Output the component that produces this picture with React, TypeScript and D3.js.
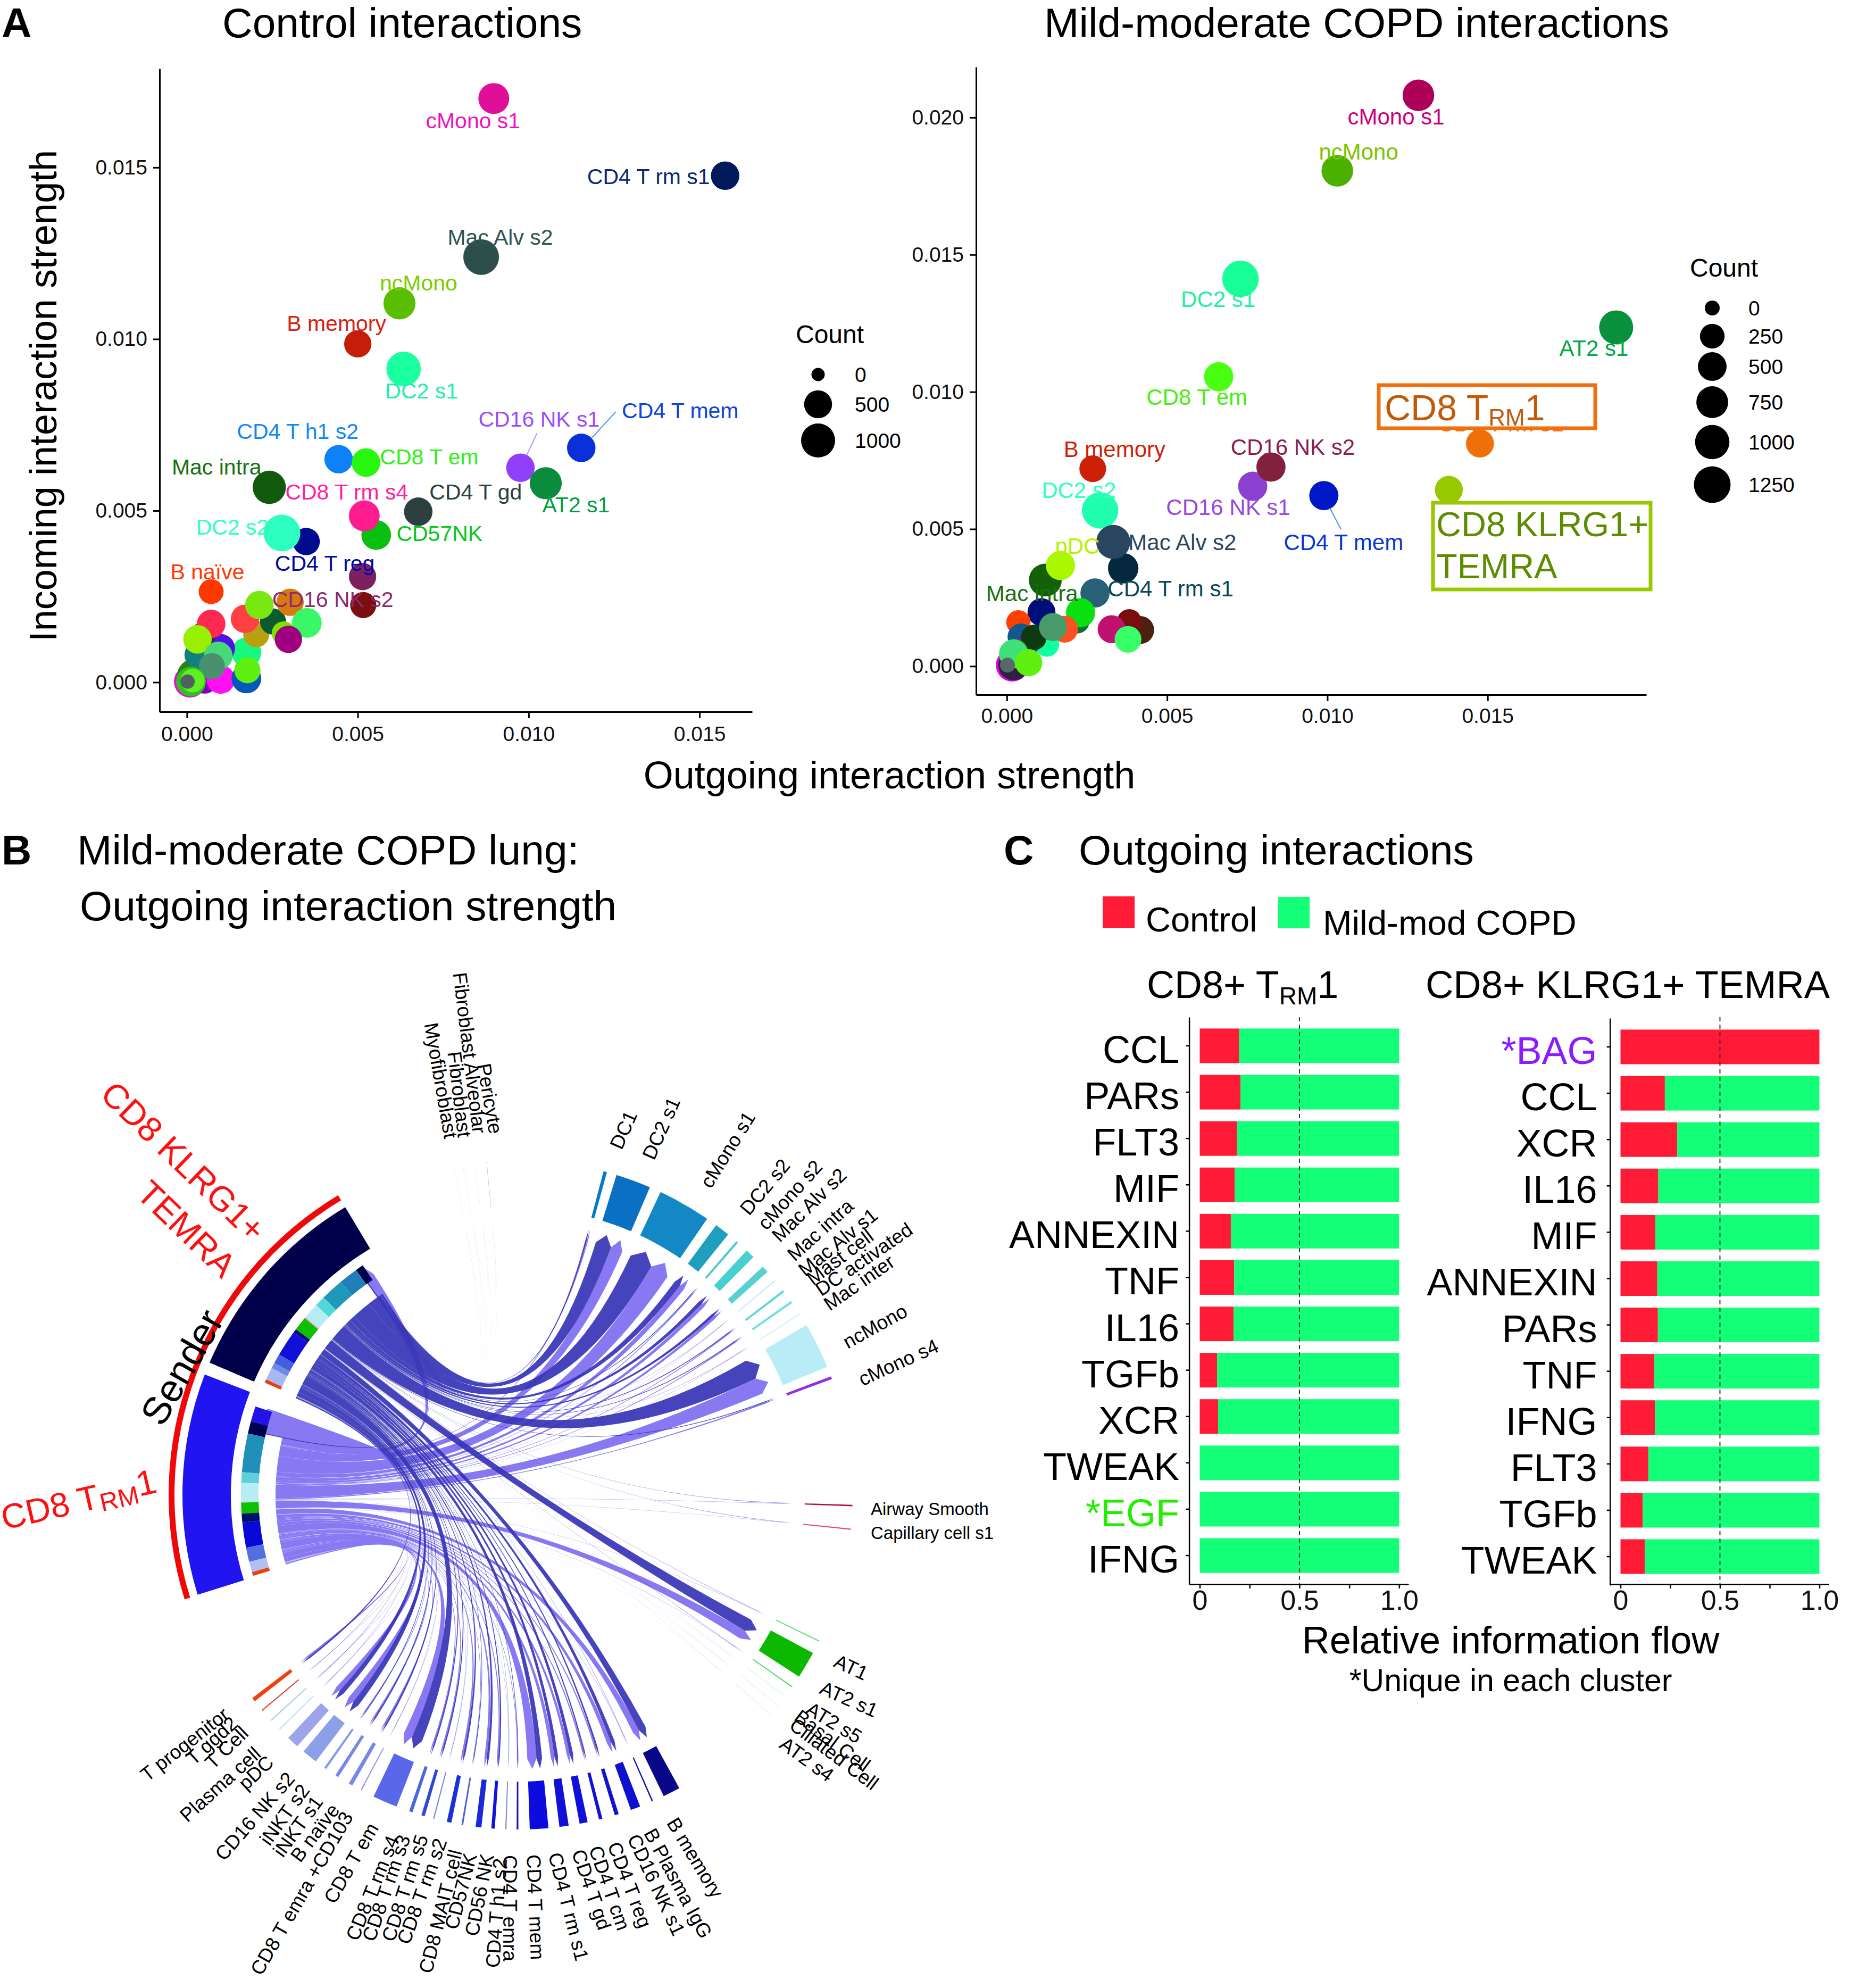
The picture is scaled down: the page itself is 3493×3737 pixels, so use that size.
import React, { useEffect, useRef } from "react";
import * as d3 from "d3";

const FONT = '"Liberation Sans", Arial, sans-serif';

// ---- panel A, control
const ctrlNames = ["cMono s1", "CD4 T rm s1", "Mac Alv s2", "ncMono", "B memory", "DC2 s1", "CD4 T mem", "CD16 NK s1", "CD4 T h1 s2", "CD8 T em", "Mac intra", "AT2 s1", "CD4 T gd", "CD57NK", "CD8 T rm s4", "CD4 T reg", "DC2 s2", "CD16 NK s2", "B naïve", "", "", "", "", "", "", "", "", "", "", "", "", "", "", "", "", "", "", "", "", "", "", "", "", "", ""];
const ctrlX = [0.00898, 0.01575, 0.00861, 0.00622, 0.005, 0.00634, 0.01154, 0.00976, 0.00444, 0.00524, 0.00241, 0.0105, 0.00677, 0.00554, 0.00519, 0.00349, 0.00278, 0.00514, 0.00071, 0.00009, 0.00023, 0.00052, 0.00099, 0.00174, 0.00031, 0.00174, 0.00099, 0.0005, 0.00203, 0.00252, 0.00302, 0.00516, 0.00071, 0.0017, 0.00212, 0.00351, 0.00283, 0.00297, 0.00031, 0.00092, 0.00073, 0.00177, 0.00012, 0.00017, 0.00002];
const ctrlY = [0.01701, 0.01476, 0.01239, 0.01104, 0.00986, 0.00913, 0.00683, 0.00625, 0.0065, 0.0064, 0.00568, 0.0058, 0.00497, 0.00429, 0.00485, 0.0041, 0.00435, 0.00308, 0.00264, 0.00002, 0.00017, 0.00005, 0.00008, 0.00011, 0.0008, 0.00087, 0.00099, 0.00143, 0.0014, 0.00177, 0.00233, 0.00225, 0.0017, 0.00185, 0.00225, 0.00173, 0.00143, 0.00125, 0.00125, 0.00077, 0.00047, 0.00035, 0.00002, 0.00005, 0.00002];
const ctrlCount = [716, 537, 1160, 820, 455, 1040, 537, 537, 537, 537, 925, 820, 537, 625, 716, 455, 1285, 455, 314, 820, 1160, 382, 537, 625, 382, 625, 537, 253, 382, 382, 455, 382, 537, 537, 537, 625, 253, 455, 537, 537, 382, 382, 625, 253, 2];
const ctrlColors = ["#DF0F98", "#001A5C", "#2C4F4B", "#5ABE00", "#C41E08", "#1AFFA0", "#0A30D8", "#9040F8", "#0E80F8", "#28F810", "#115A0C", "#0A8C3C", "#2C4040", "#08C010", "#FF1C90", "#000C90", "#2CFFC0", "#7E2060", "#FF3800", "#E010E0", "#2A8010", "#8000C0", "#FF10F0", "#0458B8", "#108080", "#18F880", "#5010E8", "#103A10", "#B8A010", "#0C5A30", "#D87A10", "#7A0E10", "#FF2850", "#FF4040", "#78E810", "#38F868", "#80E000", "#A00080", "#98F000", "#48D878", "#489070", "#60F010", "#30C020", "#60F020", "#506060"];

// label nudges: name -> [dx, dy, colour]
const ctrlLabels: Record<string, [number, number, string]> = {
  "cMono s1": [-39, 42, "#F010C0"],
  "CD4 T rm s1": [-144, 2, "#0A2870"],
  "Mac Alv s2": [36, -37, "#2C5550"],
  ncMono: [36, -38, "#7CCD00"],
  "B memory": [-40, -38, "#D62010"],
  "DC2 s1": [34, 41, "#22F0A8"],
  "CD4 T mem": [186, -70, "#1040E0"],
  "CD16 NK s1": [35, -91, "#9A4CFF"],
  "CD4 T h1 s2": [-77, -52, "#1088F8"],
  "CD8 T em": [119, -11, "#30F018"],
  "Mac intra": [-99, -38, "#147010"],
  "AT2 s1": [57, 41, "#00A040"],
  "CD4 T gd": [108, -37, "#2C4040"],
  "CD8 T rm s4": [-33, -45, "#FF20A0"],
  CD57NK: [119, -3, "#08C818"],
  "DC2 s2": [-93, -11, "#30FFC8"],
  "CD4 T reg": [35, 41, "#0008A0"],
  "CD16 NK s2": [-56, 43, "#8B2A6A"],
  "B naïve": [-7, -37, "#FF3800"],
};

// ---- panel A, mild-moderate COPD
const copdNames = ["cMono s1", "ncMono", "DC2 s1", "AT2 s1", "CD8 T em", "CD8 T rm s1", "CD16 NK s1", "CD16 NK s2", "B memory", "CD4 T mem", "CD8 KLRG1", "DC2 s2", "CD4 T rm s1", "Mac Alv s2", "Mac intra", "pDC", "", "", "", "", "", "", "", "", "", "", "", "", "", "", "", "", "", "", "", "", "", ""];
const copdX = [0.01284, 0.01031, 0.00729, 0.01901, 0.00661, 0.01476, 0.00767, 0.00824, 0.00268, 0.00989, 0.01379, 0.00291, 0.00363, 0.00332, 0.0012, 0.00167, 0.00275, 0.00108, 0.0022, 0.0023, 0.00036, 0.0018, 0.00416, 0.00382, 0.00327, 0.00378, 0.00044, 0.00125, 0.00059, 0.00059, 0.00084, 0.00144, 0.00017, 0.00025, 0.00021, 0.00021, 0.00068, 0.00002];
const copdY = [0.02081, 0.01806, 0.01412, 0.01235, 0.01055, 0.00812, 0.00656, 0.00726, 0.0072, 0.00622, 0.00643, 0.00568, 0.00357, 0.00453, 0.00314, 0.00367, 0.00267, 0.00197, 0.00164, 0.00195, 0.0016, 0.00135, 0.00132, 0.00164, 0.00135, 0.00098, 0.00107, 0.00079, 0.0007, 0.00013, 0.00105, 0.00143, 0.00004, 0.00051, 0.00004, 0.00045, 0.00013, 0.00004];
const copdCount = [737, 737, 1225, 964, 537, 450, 537, 537, 370, 537, 450, 1225, 634, 964, 849, 537, 537, 450, 234, 537, 234, 370, 450, 234, 450, 370, 370, 234, 234, 370, 300, 450, 849, 370, 634, 537, 400, 0];
const copdColors = ["#AE0058", "#4CB000", "#18FF98", "#08903C", "#48FF10", "#F07008", "#8C40D0", "#822040", "#CC2008", "#0018C8", "#98C800", "#20FFB0", "#042840", "#2A4560", "#146008", "#A8F800", "#286078", "#000E7A", "#0E7038", "#08E010", "#FF4000", "#FF5020", "#4E2010", "#7A0E0E", "#C01070", "#38FF68", "#105890", "#10FFA0", "#6020D0", "#1060B0", "#0E3A10", "#489A68", "#E000E0", "#2E7818", "#2E2040", "#40E078", "#60F010", "#586868"];
const copdLabels: Record<string, [number, number, string]> = {
  "cMono s1": [-42, 41, "#C8007C"],
  ncMono: [40, -35, "#7CC400"],
  "DC2 s1": [-42, 39, "#20F0A0"],
  "AT2 s1": [-42, 40, "#00A840"],
  "CD8 T em": [-41, 39, "#48F010"],
  "CD8 T rm s1": [39, -37, "#F07008"],
  "CD16 NK s2": [41, -37, "#8A2050"],
  "B memory": [41, -36, "#D02008"],
  "CD16 NK s1": [-46, 40, "#9848E0"],
  "CD4 T mem": [37, 88, "#0838D0"],
  "DC2 s2": [-40, -37, "#30FFC0"],
  "Mac Alv s2": [130, 1, "#2A4560"],
  pDC: [32, -36, "#B8F000"],
  "CD4 T rm s1": [89, 39, "#064858"],
  "Mac intra": [-25, 26, "#1A7010"],
};

const ctrlLegend = [0, 500, 1000];
const copdLegend = [0, 250, 500, 750, 1000, 1250];

// ---- panel B
const recvNames = ["CD8 TRM1", "CD8 TEMRA", "Myofibroblast", "Fibroblast", "Fibroblast Alveolar", "Pericyte", "DC1", "DC2 s1", "cMono s1", "DC2 s2", "cMono s2", "Mac Alv s2", "Mac intra", "Mac Alv s1", "Mast cell", "DC activated", "Mac inter", "ncMono", "cMono s4", "Airway Smooth", "Capillary cell s1", "AT1", "AT2 s1", "AT2 s5", "Basal Cell", "Ciliated Cell", "AT2 s4", "B memory", "B Plasma IgG", "CD16 NK s1", "CD4 T reg", "CD4 T cm", "CD4 T gd", "CD4 T rm s1", "CD4 T mem", "CD4 T emra", "CD4 T h1 s2", "CD56 NK", "CD57NK", "CD8 MAIT cell", "CD8 T rm s2", "CD8 T rm s5", "CD8 T rm s3", "CD8 T rm s4", "CD8 T em", "CD8 T emra +CD103", "B naïve", "iNKT s1", "iNKT s2", "CD16 NK s2", "pDC", "Plasma cell", "T cell", "T ggd2", "T progenitor"];
const recvStart = [-76.5, -35.5, -11.13, -9.53, -7.53, -5.43, 14.8, 17.1, 25.2, 36.3, 40.7, 43.1, 47, 50.1, 52.3, 54.6, 57.2, 59.5, 69.25, 91.7, 95.8, 115.8, 118.2, 124.9, 126.95, 128.95, 130.95, 151.2, 156.2, 158.6, 162.5, 165.4, 168, 171.3, 174.8, 179.95, 182, 184, 186.3, 189.45, 191.5, 194.5, 196.2, 198.4, 201.3, 207.9, 209.7, 212.5, 215, 217.2, 221.3, 225.4, 227.5, 229.8, 231.9];
const recvEnd = [-71, -33.2, -11.07, -9.47, -7.47, -5.37, 15.4, 23.2, 34.4, 38.9, 41.1, 44.7, 48.2, 50.3, 52.7, 55, 57.4, 67.5, 69.75, 91.95, 96, 116, 122.9, 125.1, 127.05, 129.05, 131.05, 154.2, 156.45, 160.3, 163.2, 166, 169.4, 172.9, 178, 180.25, 182.2, 184.6, 187.3, 189.75, 192.3, 194.7, 196.8, 199, 205.6, 208.1, 210.4, 213.1, 215.4, 219.9, 223.4, 225.6, 227.75, 230, 232.6];
const recvColors = ["none", "none", "#DCEDF0", "#E4EEF0", "#E4EEF0", "#90C8C8", "#0878C8", "#0A70C4", "#1488C4", "#1F9FC0", "#50C8D0", "#48D0D0", "#58D0D0", "#C8E8EC", "#60D8D8", "#70DDE0", "#D8EEF0", "#B8ECF6", "#9030E0", "#B01048", "#E84868", "#60E080", "#0CB800", "#50D870", "#D8F0E0", "#D8F0E0", "#D8F0E0", "#080888", "#1818A8", "#1010D0", "#1212D0", "#1212D0", "#1010D8", "#1010D8", "#0C0CE0", "#1818B0", "#8888C0", "#1414D8", "#1A2AD8", "#5060D0", "#1C30D8", "#7080E0", "#3048D8", "#4868E0", "#5868E8", "#9098E0", "#7888E8", "#7888E8", "#8898E8", "#8CA0E8", "#9CA4EC", "#C8E0E8", "#B0D8E0", "#D84030", "#F04010"];
const darkShare = [0.04, 0.12, 0.5, 0.5, 0.5, 0.5, 0.5, 0.57, 0.55, 0.55, 0.5, 0.5, 0.5, 0.5, 0.5, 0.5, 0.5, 0.55, 0.4, 0.5, 0.5, 0.5, 0.58, 0.5, 0.5, 0.5, 0.5, 0.55, 0.5, 0.5, 0.55, 0.5, 0.55, 0.5, 0.38, 0.5, 0.5, 0.5, 0.5, 0.5, 0.5, 0.5, 0.5, 0.5, 0.55, 0.5, 0.5, 0.5, 0.5, 0.5, 0.5, 0.5, 0.5, 0.5, 0.5];

const temraSpans = [1.7, 4, 4.8, 2.2, 3.4, 0.2, 2.9, 0.8, 5.5, 2, 1.2, 2.6, 0.7];
const temraSpanColors = ["#00004A", "#1F7FB8", "#2098B8", "#50D8D8", "#B8ECF4", "#F080A0", "#0CC000", "#000C80", "#1010D8", "#4060E0", "#7088E8", "#A8B8F0", "#E84010"];
const trmSpans = [3.2, 2.6, 8.1, 2.2, 4.1, 2.3, 1.8, 5.3, 3, 2.2, 0.8];
const trmSpanColors = ["#2014E8", "#000050", "#2090B8", "#60D0D8", "#B8ECF4", "#0CC000", "#00106A", "#0808D8", "#5070E0", "#B0C0F0", "#E84010"];

// text, centre x, centre y, rotation
const chordLabels: [string, number, number, number][] = [
  ["Fibroblast Alveolar", 883, 1979, 83], ["Fibroblast", 864, 2057, 83], ["Myofibroblast", 829, 2031, 80], ["Pericyte", 921, 2065, 80],
  ["DC1", 1172, 2124, -66], ["DC2 s1", 1243, 2121, -66], ["cMono s1", 1368, 2161, -58], ["DC2 s2", 1438, 2231, -50], ["cMono s2", 1485, 2246, -48],
  ["Mac Alv s2", 1521, 2265, -44.5], ["Mac intra", 1542, 2312, -42], ["Mac Alv s1", 1575, 2335, -39], ["Mast cell", 1579, 2363, -37], ["DC activated", 1624, 2367, -34.5],
  ["Mac inter", 1615, 2411, -35], ["ncMono", 1645, 2493, -29], ["cMono s4", 1689, 2561, -24.5],
  ["AT1", 1600, 3134, 25], ["AT2 s1", 1596, 3194, 24], ["AT2 s5", 1568, 3238, 31], ["Basal Cell", 1565, 3272, 37], ["Ciliated Cell", 1568, 3297, 37], ["AT2 s4", 1517, 3307, 36],
  ["B memory", 1307, 3492, 58.7], ["B Plasma IgG", 1275, 3540, 61.7], ["CD16 NK s1", 1234, 3543, 64.8], ["CD4 T reg", 1184, 3543, 69], ["CD4 T cm", 1146, 3549, 70.7], ["CD4 T gd", 1112, 3552, 71],
  ["CD4 T rm s1", 1069, 3584, 75.6], ["CD4 T mem", 1007, 3585, 87.8], ["CD4 T emra", 959, 3587, 90], ["CD4 T h1 s2", 933, 3596, -86], ["CD56 NK", 901, 3562, -79], ["CD57NK", 866, 3555, -75.5],
  ["CD8 MAIT cell", 828, 3593, -76], ["CD8 T rm s2", 793, 3555, -70], ["CD8 T rm s5", 761, 3549, -72], ["CD8 T rm s3", 726, 3549, -71], ["CD8 T rm s4", 700, 3549, -68], ["CD8 T em", 660, 3502, -60],
  ["CD8 T emra +CD103", 567, 3559, -60], ["B naïve", 592, 3445, -53], ["iNKT s1", 560, 3433, -54], ["iNKT s2", 535, 3411, -54], ["CD16 NK s2", 479, 3414, -49],
  ["pDC", 481, 3332, -43], ["Plasma cell", 414, 3354, -42], ["T Cell", 426, 3285, -44], ["T ggd2", 398, 3272, -42], ["T progenitor", 347, 3279, -38],
];

// ---- panel C
const trmCats = ["CCL", "PARs", "FLT3", "MIF", "ANNEXIN", "TNF", "IL16", "TGFb", "XCR", "TWEAK", "*EGF", "IFNG"];
const trmControl = [0.198, 0.204, 0.187, 0.176, 0.156, 0.173, 0.17, 0.087, 0.092, 0, 0, 0];
const temraCats = ["*BAG", "CCL", "XCR", "IL16", "MIF", "ANNEXIN", "PARs", "TNF", "IFNG", "FLT3", "TGFb", "TWEAK"];
const temraControl = [1, 0.223, 0.285, 0.19, 0.175, 0.185, 0.188, 0.17, 0.173, 0.14, 0.112, 0.122];

function Axis({ scale, orient, x = 0, y = 0, ticks, size, pad, fmt, fontSize, sw = 3 }: any) {
  const ref = useRef<SVGGElement>(null);
  useEffect(() => {
    const gen = (orient === "left" ? d3.axisLeft : d3.axisBottom)(scale)
      .tickValues(ticks)
      .tickSizeInner(size)
      .tickSizeOuter(0)
      .tickPadding(pad)
      .tickFormat(fmt);
    const g = d3.select(ref.current);
    g.call(gen as any);
    g.selectAll("path,line").attr("stroke", "#000").attr("stroke-width", sw);
    g.selectAll("text").attr("font-size", fontSize).attr("font-family", FONT).attr("fill", "#111");
  }, []);
  return <g ref={ref} transform={`translate(${x},${y})`} />;
}

function Scatter({ names, xs, ys, counts, colors, labels, xRange, yRange, xDom, yDom, maxCount, rRange, yTicks, padX, segs, labelSize }: any) {
  const x = d3.scaleLinear().domain(xDom).range(xRange);
  const y = d3.scaleLinear().domain(yDom).range(yRange);
  const r = d3.scaleSqrt().domain([0, maxCount]).range(rRange);
  const f = d3.format(".3f");
  return (
    <g>
      {xs.map((v: number, i: number) => (
        <circle key={i} cx={x(v)} cy={y(ys[i])} r={r(counts[i])} fill={colors[i]} />
      ))}
      {segs.map(([n, a, b, c, d, col]: any) => {
        const i = names.indexOf(n);
        return <line key={n} x1={x(xs[i]) + a} y1={y(ys[i]) + b} x2={x(xs[i]) + c} y2={y(ys[i]) + d} stroke={col} strokeWidth={2} />;
      })}
      {names.map((n: string, i: number) =>
        n && labels[n] ? (
          <text key={n} x={x(xs[i]) + labels[n][0]} y={y(ys[i]) + labels[n][1] + 14} textAnchor="middle" fontSize={labelSize} fontFamily={FONT} fill={labels[n][2]}>
            {n}
          </text>
        ) : null,
      )}
      <Axis scale={x} orient="bottom" y={yRange[0]} ticks={[0, 0.005, 0.01, 0.015]} size={12} pad={padX} fmt={f} fontSize={39} />
      <Axis scale={y} orient="left" x={xRange[0]} ticks={yTicks} size={12} pad={11} fmt={f} fontSize={39} />
    </g>
  );
}

function SizeLegend({ values, rScale, titleX, titleY, keyX, labelX, keyYs }: any) {
  return (
    <g fontFamily={FONT}>
      <text x={titleX} y={titleY} fontSize={48}>Count</text>
      {values.map((v: number, i: number) => (
        <g key={v}>
          <circle cx={keyX} cy={keyYs[i]} r={rScale(v)} fill="#000" />
          <text x={labelX} y={keyYs[i] + 14} fontSize={39}>{v}</text>
        </g>
      ))}
    </g>
  );
}

// ---- chord helpers
const CX = 974;
const CY = 2810;
const rad = (d: number) => (d * Math.PI) / 180;
const pt = (deg: number, r: number): [number, number] => [CX + r * Math.sin(rad(deg)), CY - r * Math.cos(rad(deg))];

function ribbon(aHi: number, aLo: number, bLo: number, bHi: number) {
  const p = d3.path();
  const [sx, sy] = pt(aHi, 456);
  p.moveTo(sx, sy);
  const s0 = pt(bLo, 497);
  p.quadraticCurveTo(CX, CY, s0[0], s0[1]);
  const tip = pt((bLo + bHi) / 2, 516);
  p.lineTo(tip[0], tip[1]);
  const s1 = pt(bHi, 497);
  p.lineTo(s1[0], s1[1]);
  const e = pt(aLo, 456);
  p.quadraticCurveTo(CX, CY, e[0], e[1]);
  p.arc(CX, CY, 456, rad(aLo - 90), rad(aHi - 90), false);
  p.closePath();
  return p.toString();
}

function Chords() {
  const arc = d3.arc();
  const span = recvNames.map((_, i) => recvEnd[i] - recvStart[i]);
  const darkW = span.map((s, i) => s * darkShare[i]);
  const lightW = span.map((s, i) => s * (1 - darkShare[i]));
  const darkCum = [0, ...d3.cumsum(darkW)];
  const lightCum = [0, ...d3.cumsum(lightW)];
  const darkA = d3.scaleLinear().domain([0, d3.sum(darkW)]).range([-34, -66.5]);
  const lightA = d3.scaleLinear().domain([0, d3.sum(lightW)]).range([-71.4, -106.7]);
  const faint = (s: number) => (s < 0.15 ? 0.25 : s < 0.3 ? 0.55 : 1);
  const ring = (spans: number[], colors: string[], start: number) => {
    const cum = [0, ...d3.cumsum(spans)];
    return spans.map((s, i) => (
      <path key={i} fill={colors[i]} d={arc({ innerRadius: 488, outerRadius: 521, startAngle: rad(start - cum[i + 1]), endAngle: rad(start - cum[i]) }) as string} />
    ));
  };
  const block = (a: number, b: number, r0: number, r1: number) => arc({ innerRadius: r0, outerRadius: r1, startAngle: rad(a), endAngle: rad(b) }) as string;
  return (
    <g>
      {recvNames.map((n, i) => (
        <path key={"l" + n} fill="#8878F2" fillOpacity={faint(span[i])} d={ribbon(lightA(lightCum[i]), lightA(lightCum[i + 1]), recvStart[i] + span[i] * darkShare[i], recvEnd[i])} />
      ))}
      {recvNames.map((n, i) => (
        <path key={"d" + n} fill="#3634B6" fillOpacity={0.92 * faint(span[i])} d={ribbon(darkA(darkCum[i]), darkA(darkCum[i + 1]), recvStart[i], recvStart[i] + span[i] * darkShare[i])} />
      ))}
      <g transform={`translate(${CX},${CY})`}>
        {recvNames.map((n, i) =>
          recvColors[i] === "none" ? null : <path key={n} fill={recvColors[i]} d={block(recvStart[i], recvEnd[i], 539, 629)} />,
        )}
        <path fill="#00004A" d={block(-66.8, -31, 540, 631)} />
        <path fill="#2014F0" d={block(-107.3, -69, 540, 631)} />
        <path fill="#F00808" d={block(-107.4, -31, 646, 657)} />
        {ring(temraSpans, temraSpanColors, -34.1)}
        {ring(trmSpans, trmSpanColors, -71.4)}
      </g>
    </g>
  );
}

function StackPanel({ cats, control, x1, bandTop, labelEnd, axisX }: any) {
  const rows = cats.map((c: string, i: number) => ({ cat: c, control: control[i], copd: 1 - control[i] }));
  const series = d3.stack<any>().keys(["control", "copd"])(rows);
  const x = d3.scaleLinear().domain([-0.053, 1.047]).range([axisX, x1]);
  const y = d3.scaleBand().domain(cats).range([bandTop, bandTop + 1066]).paddingInner(0.253).paddingOuter(0.246);
  const fill: Record<string, string> = { control: "#FF1A35", copd: "#14FF78" };
  const catColor = (c: string) => (c === "*BAG" ? "#8A1CFF" : c === "*EGF" ? "#22EE00" : "#000");
  return (
    <g>
      {series.map((s: any) =>
        s.map((d: any) => (
          <rect key={s.key + d.data.cat} x={x(d[0])} width={x(d[1]) - x(d[0])} y={y(d.data.cat)} height={y.bandwidth()} fill={fill[s.key]} />
        )),
      )}
      <line x1={x(0.5)} x2={x(0.5)} y1={1912} y2={2978} stroke="#333" strokeWidth={2} strokeDasharray="8 6" />
      {cats.map((c: string) => (
        <text key={c} x={labelEnd} y={(y(c) as number) + y.bandwidth() / 2 + 32} textAnchor="end" fontSize={72} fontFamily={FONT} fill={catColor(c)}>
          {c}
        </text>
      ))}
      <Axis scale={y} orient="left" x={axisX} ticks={cats} size={6} pad={4} fmt={() => ""} fontSize={10} sw={2.5} />
      <Axis scale={x} orient="bottom" y={2978} ticks={[0, 0.25, 0.5, 0.75, 1]} size={8} pad={3} fmt={(d: number) => (d === 0 ? "0" : d === 0.5 ? "0.5" : d === 1 ? "1.0" : "")} fontSize={52} sw={2.5} />
    </g>
  );
}

export default function App() {
  const ctrlR = d3.scaleSqrt().domain([0, 1000]).range([12.5, 32]);
  const copdR = d3.scaleSqrt().domain([0, 1250]).range([14, 34.5]);
  return (
    <svg width={3493} height={3737} viewBox="0 0 3493 3737" style={{ position: "absolute", left: 0, top: 0, background: "#fff" }}>
      {/* panel A */}
      <g fontFamily={FONT} fill="#000">
        <text x={3} y={70} fontSize={78} fontWeight="bold">A</text>
        <text x={418} y={70} fontSize={78.5}>Control interactions</text>
        <text x={1963} y={70} fontSize={78.6}>Mild-moderate COPD interactions</text>
        <text transform="translate(106,744) rotate(-90)" textAnchor="middle" fontSize={72}>Incoming interaction strength</text>
        <text x={1672} y={1482} textAnchor="middle" fontSize={72}>Outgoing interaction strength</text>
      </g>
      <Scatter names={ctrlNames} xs={ctrlX} ys={ctrlY} counts={ctrlCount} colors={ctrlColors} labels={ctrlLabels}
        xRange={[300, 1414]} yRange={[1338, 129]} xDom={[-0.0008, 0.01654]} yDom={[-0.00086, 0.01788]}
        maxCount={1000} rRange={[12.5, 32]} yTicks={[0, 0.005, 0.01, 0.015]} padX={15} labelSize={41}
        segs={[["CD4 T mem", 20, -19, 65, -68, "#5090E0"], ["CD16 NK s1", 12, -24, 31, -65, "#B88CFF"]]} />
      <SizeLegend values={ctrlLegend} rScale={ctrlR} titleX={1496} titleY={645} keyX={1538} labelX={1607} keyYs={[704, 760, 828]} />
      <Scatter names={copdNames} xs={copdX} ys={copdY} counts={copdCount} colors={copdColors} labels={copdLabels}
        xRange={[1835, 3095]} yRange={[1306, 126]} xDom={[-0.00096, 0.01995]} yDom={[-0.00104, 0.02184]}
        maxCount={1250} rRange={[14, 34.5]} yTicks={[0, 0.005, 0.01, 0.015, 0.02]} padX={13} labelSize={42}
        segs={[["CD4 T mem", 11, 23, 32, 63, "#5090E0"]]} />
      <SizeLegend values={copdLegend} rScale={copdR} titleX={3177} titleY={520} keyX={3219} labelX={3287} keyYs={[579, 632, 689, 756, 831, 911]} />
      <g fontFamily={FONT}>
        <rect x={2592} y={724} width={407} height={81} fill="#fff" stroke="#F07010" strokeWidth={7} />
        <text x={2603} y={790} fontSize={68} fill="#C05A08">CD8 T<tspan fontSize={44} dy={10}>RM</tspan><tspan dy={-10}>1</tspan></text>
        <rect x={2694} y={945} width={409} height={163} fill="#fff" stroke="#98C800" strokeWidth={7} />
        <text x={2700} y={1008} fontSize={65} fill="#5E8C00">CD8 KLRG1+</text>
        <text x={2700} y={1087} fontSize={65} fill="#5E8C00">TEMRA</text>
      </g>

      {/* panel B */}
      <g fontFamily={FONT} fill="#000">
        <text x={3} y={1625} fontSize={78} fontWeight="bold">B</text>
        <text x={145} y={1625} fontSize={78.6}>Mild-moderate COPD lung:</text>
        <text x={150} y={1730} fontSize={78.6}>Outgoing interaction strength</text>
      </g>
      <Chords />
      <g fontFamily={FONT}>
        {chordLabels.map(([t, x, y, a]) => (
          <text key={t} transform={`translate(${x},${y}) rotate(${a})`} textAnchor="middle" dy="0.35em" fontSize={37}>{t}</text>
        ))}
        <text x={1637} y={2848} fontSize={33}>Airway Smooth</text>
        <text x={1637} y={2893} fontSize={33}>Capillary cell s1</text>
        <text transform="translate(345,2183) rotate(44)" textAnchor="middle" dy="0.35em" fontSize={65} fill="#FF1010">CD8 KLRG1+</text>
        <text transform="translate(351,2310) rotate(44)" textAnchor="middle" dy="0.35em" fontSize={65} fill="#FF1010">TEMRA</text>
        <text transform="translate(342,2570) rotate(-60)" textAnchor="middle" dy="0.35em" fontSize={73}>Sender</text>
        <text transform="translate(8,2876) rotate(-13)" fontSize={65} fill="#FF1010">CD8 T<tspan fontSize={48} dy={8}>RM</tspan><tspan fontSize={66} dy={-12}>1</tspan></text>
      </g>

      {/* panel C */}
      <g fontFamily={FONT} fill="#000">
        <text x={1887} y={1625} fontSize={78} fontWeight="bold">C</text>
        <text x={2028} y={1625} fontSize={78.6}>Outgoing interactions</text>
        <rect x={2073} y={1685} width={60} height={59} fill="#FF1A35" />
        <text x={2154} y={1751} fontSize={65}>Control</text>
        <rect x={2403} y={1686} width={59} height={59} fill="#14FF78" />
        <text x={2487} y={1757} fontSize={65.5}>Mild-mod COPD</text>
        <text x={2156} y={1876} fontSize={72}>CD8+ T<tspan fontSize={46} dy={12}>RM</tspan><tspan dy={-12}>1</tspan></text>
        <text x={2680} y={1876} fontSize={72.5}>CD8+ KLRG1+ TEMRA</text>
        <text x={2840} y={3108} textAnchor="middle" fontSize={72}>Relative information flow</text>
        <text x={2840} y={3179} textAnchor="middle" fontSize={59}>*Unique in each cluster</text>
      </g>
      <StackPanel cats={trmCats} control={trmControl} axisX={2235.6} x1={2648} bandTop={1912} labelEnd={2217} />
      <StackPanel cats={temraCats} control={temraControl} axisX={3026.7} x1={3438} bandTop={1914} labelEnd={3002.5} />
    </svg>
  );
}
